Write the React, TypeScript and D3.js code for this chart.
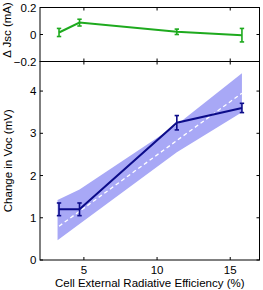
import React from "react";
import * as d3 from "d3";

// measured points
const efficiency = [3.3, 4.7, 11.35, 15.8];
const jscDelta = [0.015, 0.088, 0.02, -0.005];
const jscErr = [0.03, 0.025, 0.02, 0.05];
const vocDelta = [1.2, 1.2, 3.25, 3.6];
const vocErr = [0.15, 0.15, 0.17, 0.11];

// model band and its centre line
const bandX = [3.2, 4.7, 11.35, 15.8];
const bandUpper = [1.42, 1.67, 3.2, 4.42];
const bandLower = [0.47, 0.85, 2.55, 3.5];
const fitX = [3.3, 15.8];
const fitY = [0.8, 3.95];

const xTicks = [5, 10, 15];
const jscTicks = [-0.2, 0, 0.2];
const vocTicks = [0, 1, 2, 3, 4];

const W = 263;
const H = 290;
const left = 40;
const right = 259.5;
const topY = 7.5;
const midY = 61.5;
const bottomY = 260;
const tick = 3;
const font = "'Liberation Sans', Arial, sans-serif";

const green = "#1eaa1e";
const navy = "#0c0c8a";
const bandFill = "#a8a8f6";

const x = d3.scaleLinear().domain([2, 17]).range([left, right]);
const yJsc = d3.scaleLinear().domain([-0.2, 0.2]).range([midY, topY]);
const yVoc = d3.scaleLinear().domain([0, 4.7]).range([bottomY, midY]);

type Scale = d3.ScaleLinear<number, number>;

const ErrorBars = ({ ys, errs, y, color }: { ys: number[]; errs: number[]; y: Scale; color: string }) => (
  <g stroke={color} strokeWidth={1.6}>
    {efficiency.map((e, i) => {
      const cx = x(e);
      const y0 = y(ys[i] - errs[i]);
      const y1 = y(ys[i] + errs[i]);
      return (
        <g key={i}>
          <line x1={cx} x2={cx} y1={y0} y2={y1} />
          <line x1={cx - 2.2} x2={cx + 2.2} y1={y0} y2={y0} />
          <line x1={cx - 2.2} x2={cx + 2.2} y1={y1} y2={y1} />
        </g>
      );
    })}
  </g>
);

const Frame = ({ y, ticks, y0, y1 }: { y: Scale; ticks: number[]; y0: number; y1: number }) => (
  <g stroke="#000" strokeWidth={1} fill="none">
    <rect x={left} y={y0} width={right - left} height={y1 - y0} />
    {ticks.map((t) => (
      <g key={t}>
        <line x1={left} x2={left + tick} y1={y(t)} y2={y(t)} />
        <line x1={right} x2={right - tick} y1={y(t)} y2={y(t)} />
      </g>
    ))}
    {xTicks.map((t) => (
      <g key={t}>
        <line x1={x(t)} x2={x(t)} y1={y0} y2={y0 + tick} />
        <line x1={x(t)} x2={x(t)} y1={y1} y2={y1 - tick} />
      </g>
    ))}
  </g>
);

export default function App() {
  const jscLine = d3
    .line<number>()
    .x((_, i) => x(efficiency[i]))
    .y((d) => yJsc(d));
  const vocLine = d3
    .line<number>()
    .x((_, i) => x(efficiency[i]))
    .y((d) => yVoc(d));
  const band = d3
    .area<number>()
    .x((_, i) => x(bandX[i]))
    .y0((_, i) => yVoc(bandLower[i]))
    .y1((d) => yVoc(d));
  const fit = d3
    .line<number>()
    .x((_, i) => x(fitX[i]))
    .y((d) => yVoc(d));

  const fmt = (v: number) => (v < 0 ? "\u22120.2" : v === 0 ? "0" : String(v));

  return (
    <svg
      width={W}
      height={H}
      style={{ position: "absolute", left: 0, top: 0, background: "#fff" }}
      fontFamily={font}
      fontSize={11.5}
    >
      {/* upper panel: short-circuit current change */}
      <path d={jscLine(jscDelta) ?? ""} fill="none" stroke={green} strokeWidth={2} />
      <ErrorBars ys={jscDelta} errs={jscErr} y={yJsc} color={green} />

      {/* lower panel: open-circuit voltage change */}
      <path d={band(bandUpper) ?? ""} fill={bandFill} stroke="none" />
      <path d={fit(fitY) ?? ""} fill="none" stroke="#fff" strokeWidth={1.3} strokeDasharray="4,3" />
      <path d={vocLine(vocDelta) ?? ""} fill="none" stroke={navy} strokeWidth={2} />
      <ErrorBars ys={vocDelta} errs={vocErr} y={yVoc} color={navy} />

      <Frame y={yJsc} ticks={jscTicks} y0={topY} y1={midY} />
      <Frame y={yVoc} ticks={vocTicks} y0={midY} y1={bottomY} />

      <g fill="#000" textAnchor="end">
        {jscTicks.map((t) => (
          <text key={t} x={left - 3.5} y={yJsc(t) + 4}>
            {fmt(t)}
          </text>
        ))}
        {vocTicks.map((t) => (
          <text key={t} x={left - 3.5} y={yVoc(t) + 4}>
            {t}
          </text>
        ))}
      </g>
      <g fill="#000" textAnchor="middle">
        {xTicks.map((t) => (
          <text key={t} x={x(t)} y={bottomY + 14}>
            {t}
          </text>
        ))}
        <text x={(left + right) / 2} y={286.5}>
          Cell External Radiative Efficiency (%)
        </text>
        <text transform="translate(11,30) rotate(-90)">{"\u0394 Jsc (mA)"}</text>
        <text transform={`translate(12,${(midY + bottomY) / 2}) rotate(-90)`}>Change in Voc (mV)</text>
      </g>
    </svg>
  );
}
